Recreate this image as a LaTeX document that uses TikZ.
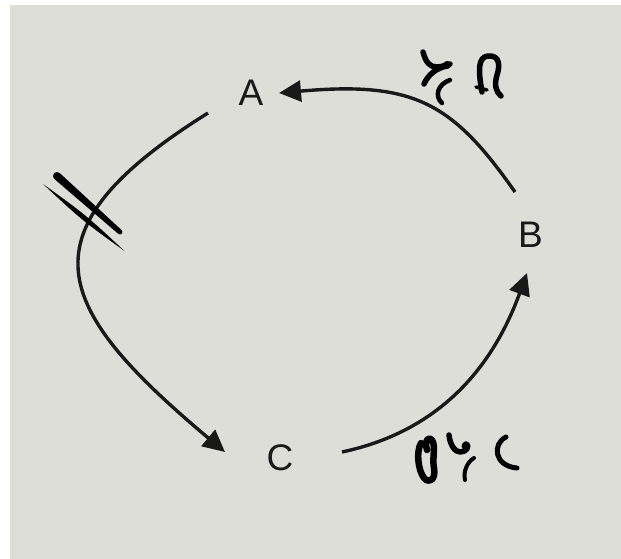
\documentclass[tikz,border=0pt]{standalone}
\usepackage{fontspec}
\setmainfont{Liberation Sans}
\usetikzlibrary{arrows.meta}
\definecolor{bg}{RGB}{222,222,217}
\definecolor{ink}{RGB}{25,25,25}
\begin{document}
\begin{tikzpicture}[x=1pt,y=1pt,
  lbl/.style={inner sep=0pt, font=\fontsize{37}{42}\selectfont, text=ink},
  conn/.style={line width=3.4pt, draw=ink, -{Triangle[length=22pt,width=21pt]}},
  scrib/.style={line width=5.5pt, line cap=round, line join=round, draw=black}]
\useasboundingbox (0,0) rectangle (621,-559);
\fill[bg] (10,-5) rectangle (621,-559);
% nodes
\node[lbl] (A) at (251,-92.5) {A};
\node[lbl] (B) at (530.5,-235) {B};
\node[lbl] (C) at (280,-457.5) {C};
% connectors
\draw[conn] ([shift={(-43pt,-20.5pt)}]A.center) .. controls +(212:225pt) and +(140:225pt) .. ([shift={(-55pt,5.5pt)}]C.center);
\draw[conn] ([shift={(62pt,5.5pt)}]C.center) .. controls +(12:100pt) and +(250:100pt) .. ([shift={(-3.5pt,-38pt)}]B.center);
\draw[conn] ([shift={(-15.5pt,43pt)}]B.center) .. controls +(125:110pt) and +(5:135pt) .. ([shift={(28pt,-0.5pt)}]A.center);
% double hash mark
\fill[black] (59.66,-173.01) -- (121.66,-230.13) arc[start angle=48.4, end angle=-131.6, radius=2.5] -- (54.34,-178.99) arc[start angle=228.4, end angle=48.4, radius=4] -- cycle;
\fill[black] (43,-184) .. controls (85.85,-214.95) .. (124.5,-251) .. controls (81.65,-220.05) .. cycle;
% handwritten marks near B->A
\draw[scrib] (423,-52) .. controls (426,-63) and (430,-67) .. (437,-67) .. controls (443,-67) and (447,-64) .. (450,-64);
\fill[black] (447,-65) circle (4);
\draw[scrib] (447,-66) .. controls (436,-68) and (428,-75) .. (424,-84);
\draw[scrib,line width=4.5pt] (450,-80) .. controls (438,-84) and (434,-96) .. (442,-103);
\draw[scrib] (482,-92) .. controls (478,-70) and (478,-57) .. (488,-56) .. controls (500,-55) and (500,-66) .. (497,-75) .. controls (494,-85) and (496,-92) .. (501,-96);
\draw[scrib,line width=3.5pt] (476,-87) -- (487,-90);
% handwritten marks near C->B
\draw[scrib,line width=6.5pt] (421,-443) .. controls (416,-452) and (418,-470) .. (424,-478) .. controls (429,-484) and (436,-480) .. (434,-468) .. controls (432,-458) and (436,-446) .. (432,-440) .. controls (429,-436) and (424,-440) .. (427,-450);
\draw[scrib] (449,-435) .. controls (450,-445) and (455,-452) .. (460,-452) .. controls (466,-452) and (470,-447) .. (466,-444);
\fill[black] (466,-446) circle (4.5);
\draw[scrib,line width=4pt] (474,-458) .. controls (467,-462) and (463,-472) .. (465,-480);
\draw[scrib,line width=5pt] (506,-437) .. controls (492,-444) and (494,-466) .. (517,-468);
\end{tikzpicture}
\end{document}
